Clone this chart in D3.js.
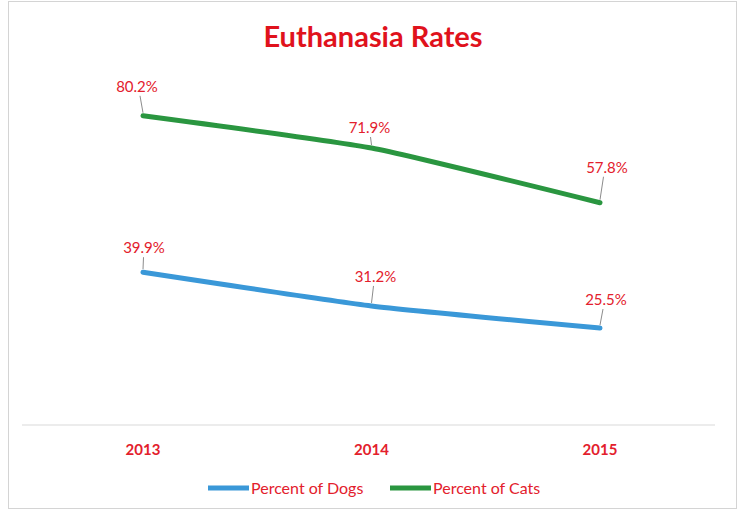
<!DOCTYPE html>
<html>
<head>
<meta charset="utf-8">
<script src="https://cdn.jsdelivr.net/npm/d3@7"></script>
<style>
  html, body { margin: 0; padding: 0; background: #fff; }
  svg { display: block; }
  text { font-family: Lato, "Open Sans", sans-serif; }
</style>
</head>
<body>
<svg id="chart" width="741" height="514"></svg>
<script>
// Euthanasia rates by year
const years = ["2013", "2014", "2015"];
const dogs = [39.9, 31.2, 25.5];
const cats = [80.2, 71.9, 57.8];
const seriesNames = ["Percent of Dogs", "Percent of Cats"];
const seriesColors = ["#3a98d8", "#2a9640"];
const titleText = "Euthanasia Rates";

const svg = d3.select("#chart");
const red = "#e3202c";

// frame
svg.append("rect")
  .attr("x", 8.5).attr("y", 1.5)
  .attr("width", 728).attr("height", 507)
  .attr("fill", "#fff").attr("stroke", "#d4d4d4").attr("stroke-width", 1);

const x = d3.scalePoint().domain(years).range([143, 600]);
const y = d3.scaleLinear().domain([0, 100]).range([427, 39]);

// title
svg.append("text")
  .attr("x", 373).attr("y", 47)
  .attr("text-anchor", "middle")
  .attr("font-size", 29).attr("font-weight", 700)
  .attr("fill", "#e0121c")
  .text(titleText);

// category axis
const axisG = svg.append("g").attr("transform", "translate(0,425)");
axisG.append("line")
  .attr("x1", 22).attr("x2", 715)
  .attr("stroke", "#d9d9d9").attr("stroke-width", 1);
axisG.selectAll("text.year").data(years).enter().append("text")
  .attr("class", "year")
  .attr("x", d => x(d)).attr("y", 30)
  .attr("text-anchor", "middle")
  .attr("font-size", 15).attr("font-weight", 700)
  .attr("fill", red)
  .text(d => d);

const line = d3.line()
  .x((d, i) => x(years[i]))
  .y(d => y(d))
  .curve(d3.curveCardinal.tension(0.55));

// label offsets from each point: [dx, dy] to the label baseline
const series = [
  { name: seriesNames[0], values: dogs, color: seriesColors[0],
    offsets: [[1, -19], [4, -24], [6, -23]] },
  { name: seriesNames[1], values: cats, color: seriesColors[1],
    offsets: [[-6, -24], [-2, -15], [7, -30]] }
];

series.forEach(s => {
  svg.append("path")
    .datum(s.values)
    .attr("d", line)
    .attr("fill", "none")
    .attr("stroke", s.color)
    .attr("stroke-width", 5)
    .attr("stroke-linecap", "round");

  s.values.forEach((v, i) => {
    const px = x(years[i]), py = y(v);
    const [dx, dy] = s.offsets[i];
    // leader line from label to point
    svg.append("line")
      .attr("x1", px + dx * 0.5).attr("y1", py + dy + 4)
      .attr("x2", px).attr("y2", py - 3)
      .attr("stroke", "#8c8c8c").attr("stroke-width", 1);
    svg.append("text")
      .attr("x", px + dx).attr("y", py + dy)
      .attr("text-anchor", "middle")
      .attr("font-size", 15)
      .attr("fill", red)
      .text(d3.format(".1f")(v) + "%");
  });
});

// legend
const legend = svg.append("g").attr("transform", "translate(0,488)");
const legendX = [208, 390];
series.forEach((s, i) => {
  const g = legend.append("g").attr("transform", `translate(${legendX[i]},0)`);
  g.append("line")
    .attr("x1", 0).attr("x2", 41)
    .attr("stroke", s.color).attr("stroke-width", 5);
  g.append("text")
    .attr("x", 43).attr("y", 5.5)
    .attr("font-size", 16)
    .attr("fill", red)
    .text(s.name);
});
</script>
</body>
</html>
